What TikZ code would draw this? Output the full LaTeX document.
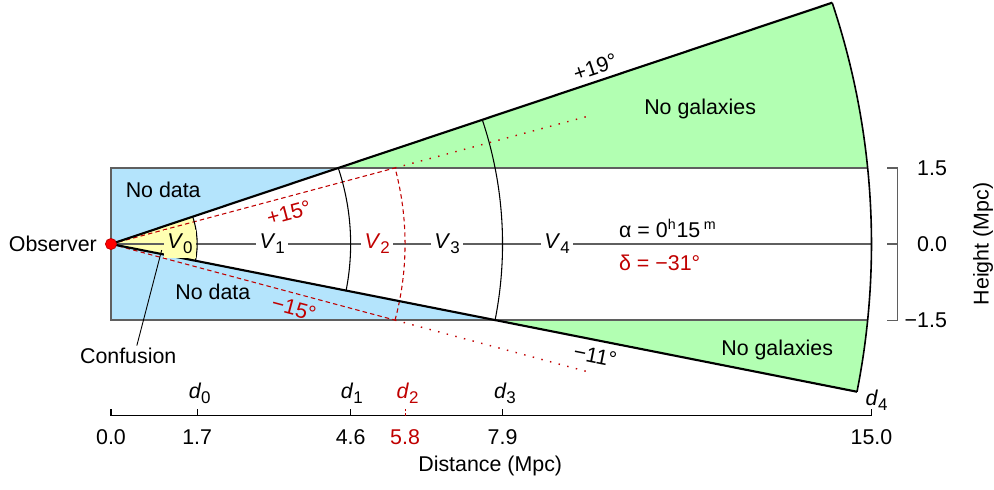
\documentclass[tikz,border=0pt]{standalone}
\usepackage{fontspec}
\setmainfont{Liberation Sans}
\usepackage{tikz}
\usetikzlibrary{arrows.meta,positioning,calc}
\definecolor{nodatablue}{RGB}{180,228,252}
\definecolor{nogalgreen}{RGB}{178,255,178}
\definecolor{confyellow}{RGB}{255,255,178}
\definecolor{darkred}{RGB}{192,0,0}
\definecolor{boxgray}{RGB}{95,95,95}
\newcommand{\lowidx}[1]{\raisebox{-0.45ex}{\fontsize{9.5}{10}\selectfont #1}}
\tikzset{
    lbl/.style={
        font=\fontsize{12}{14}\selectfont,
        inner sep=1pt
    },
    vlbl/.style={
        lbl,
        fill=white,
        inner sep=2pt
    },
    redlbl/.style={
        lbl,
        text=darkred
    },
    wedgeline/.style={
        line width=1.2pt,
        line join=miter
    },
    shellarc/.style={
        line width=0.6pt
    },
    boxline/.style={
        boxgray,
        line width=0.7pt
    },
    sightline/.style={
        darkred,
        line width=0.6pt,
        dash pattern=on 2.5pt off 1.8pt
    },
    sightdots/.style={
        darkred,
        line width=0.8pt,
        dash pattern=on 0.8pt off 4.2pt
    },
    axisline/.style={
        line width=0.6pt
    },
    obsdot/.style={
        circle,
        fill=red,
        draw=darkred,
        line width=0.4pt,
        minimum size=0.22cm,
        inner sep=0pt
    }
}

\begin{document}
\begin{tikzpicture}[x=1cm,y=1cm]
    \useasboundingbox (-2.189,-4.832) rectangle (17.416,4.813);

    \fill[nodatablue] (0,1.5) -- (4.483,1.5) -- (0,0) -- (7.575,-1.5) -- (0,-1.5) -- cycle;
    \fill[nogalgreen] (4.483,1.5) -- (18.5:15) arc[start angle=18.5, end angle=5.739, radius=15] -- cycle;
    \fill[nogalgreen] (7.575,-1.5) -- (-11.2:15) arc[start angle=-11.2, end angle=-5.739, radius=15] -- cycle;
    \fill[confyellow] (0,0) -- (-11.2:1.7) arc[start angle=-11.2, end angle=18.5, radius=1.7] -- cycle;

    \draw[boxline] (14.925,1.5) -- (0,1.5) -- (0,-1.5) -- (14.925,-1.5);
    \draw[boxline] (0,0) -- (15,0);

    \draw[sightline] (0,0) -- (15:5.8);
    \draw[sightline] (0,0) -- (-15:5.8);
    \draw[sightdots] (15:5.8) -- (15:9.8);
    \draw[sightdots] (-15:5.8) -- (-15:9.8);
    \draw[sightline] (-15:5.8) arc[start angle=-15, end angle=15, radius=5.8];

    \draw[shellarc] (18.5:1.7) arc[start angle=18.5, end angle=-11.2, radius=1.7];
    \draw[shellarc] (18.5:4.727) arc[start angle=18.5, end angle=-11.2, radius=4.727];
    \draw[shellarc] (18.5:7.723) arc[start angle=18.5, end angle=-11.2, radius=7.723];
    \draw[shellarc, line width=0.9pt] (18.5:15) arc[start angle=18.5, end angle=-11.2, radius=15];
    \draw[wedgeline] (18.5:15) -- (0,0) -- (-11.2:15);

    \node[obsdot] (obs) at (0,0) {};
    \node[lbl, left=0.12cm of obs] (observer) {Observer};

    \node[vlbl, fill=confyellow] (v0) at (1.36,0) {\textit{V}\lowidx{0}};
    \node[vlbl] (v1) at (3.18,0) {\textit{V}\lowidx{1}};
    \node[vlbl, text=darkred] (v2) at (5.25,0) {\textit{V}\lowidx{2}};
    \node[vlbl] (v3) at (6.63,0) {\textit{V}\lowidx{3}};
    \node[vlbl] (v4) at (8.80,0) {\textit{V}\lowidx{4}};

    \node[lbl, anchor=west] (ra) at (9.98,0.3) {α = 0\textsuperscript{h}15\,\textsuperscript{m}};
    \node[redlbl, anchor=west] (dec) at (9.98,-0.37) {δ = −31°};

    \node[lbl] (nodata1) at (1.03,1.07) {No data};
    \node[lbl] (nodata2) at (2.01,-0.95) {No data};
    \node[lbl] (nogal1) at (11.62,2.66) {No galaxies};
    \node[lbl] (nogal2) at (13.14,-2.09) {No galaxies};

    \node[lbl, rotate=18.5] (ang19) at (9.55,3.49) {+19°};
    \node[lbl, rotate=-11.2] (ang11) at (9.55,-2.2) {−11°};
    \node[redlbl, rotate=15] (ang15) at (3.51,0.62) {+15°};
    \node[redlbl, rotate=-15] (angm15) at (3.61,-1.27) {−15°};

    \node[lbl] (conf) at (0.34,-2.2) {Confusion};
    \coordinate (confpt) at (1.0,-0.12);
    \draw[line width=0.5pt] (confpt) -- ($(conf.north)+(0.17,0)$);

    \draw[axisline] (0,-3.39) -- (15,-3.39);
    \foreach \x in {0,1.7,4.727,7.723,15}
        \draw[axisline] (\x,-3.39) -- (\x,-3.25);
    \draw[axisline, darkred, dash pattern=on 1.5pt off 1pt] (5.8,-3.39) -- (5.8,-3.25);
    \foreach \x/\t/\n in {0/0.0/t0, 1.7/1.7/t1, 4.727/4.6/t2, 7.723/7.9/t4, 15/15.0/t5}
        \node[lbl] (\n) at (\x,-3.81) {\t};
    \node[redlbl] (t3) at (5.8,-3.81) {5.8};
    \node[lbl] (xlabel) at (7.48,-4.38) {Distance (Mpc)};

    \node[lbl] (d0) at (1.75,-2.94) {\textit{d}\lowidx{0}};
    \node[lbl] (d1) at (4.75,-2.94) {\textit{d}\lowidx{1}};
    \node[redlbl] (d2) at (5.85,-2.94) {\textit{d}\lowidx{2}};
    \node[lbl] (d3) at (7.77,-2.94) {\textit{d}\lowidx{3}};
    \node[lbl] (d4) at (15.1,-3.08) {\textit{d}\lowidx{4}};

    \draw[axisline, boxgray] (15.31,1.5) -- (15.52,1.5) -- (15.52,-1.5) -- (15.31,-1.5);
    \draw[axisline, boxgray] (15.31,0) -- (15.52,0);
    \node[lbl, anchor=east] (h1) at (16.53,1.5) {1.5};
    \node[lbl, anchor=east] (h2) at (16.53,0) {0.0};
    \node[lbl, anchor=east] (h3) at (16.53,-1.5) {−1.5};
    \node[lbl, rotate=90] (ylabel) at (17.2,0) {Height (Mpc)};
\end{tikzpicture}
\end{document}
